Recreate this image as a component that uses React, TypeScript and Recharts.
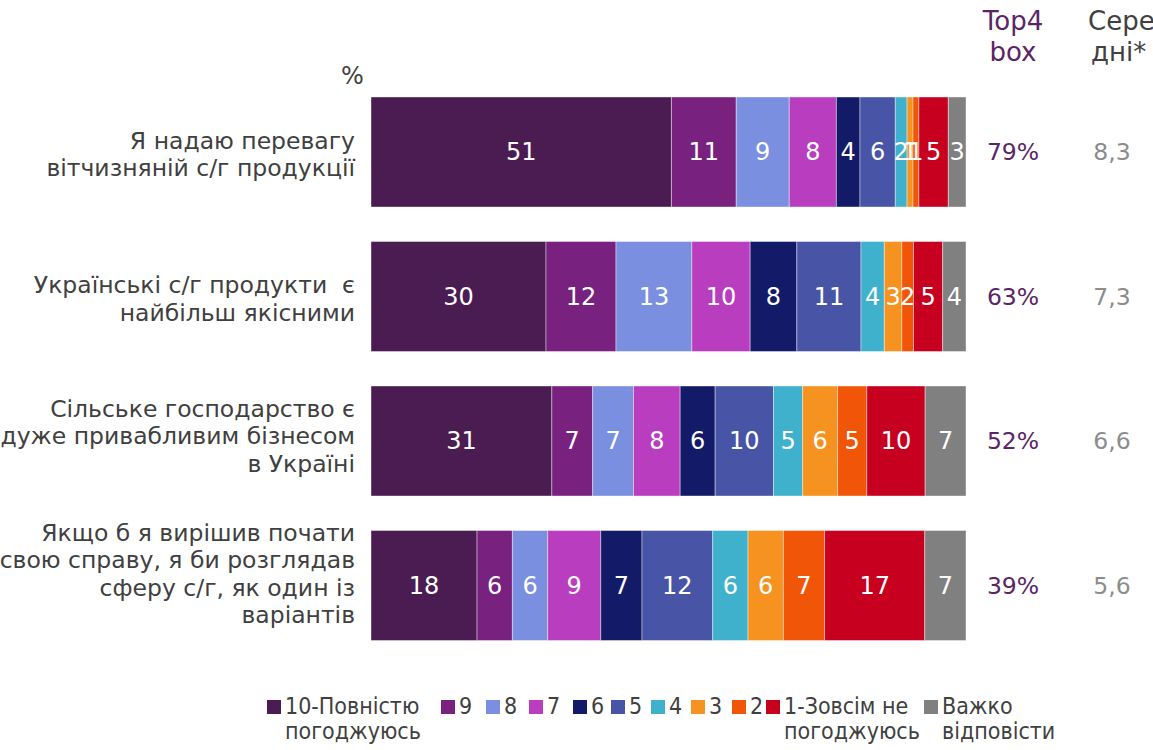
import React from "react";
import { BarChart, Bar, XAxis, YAxis, LabelList } from "recharts";

const statements = [
  ["Я надаю перевагу", "вітчизняній с/г продукції"],
  ["Українські с/г продукти  є", "найбільш якісними"],
  ["Сільське господарство є", "дуже привабливим бізнесом", "в Україні"],
  ["Якщо б я вирішив почати", "свою справу, я би розглядав", "сферу с/г, як один із", "варіантів"],
];

const seriesKeys = ["s10", "s9", "s8", "s7", "s6", "s5", "s4", "s3", "s2", "s1", "na"];
const seriesNames = ["10-Повністю погоджуюсь", "9", "8", "7", "6", "5", "4", "3", "2", "1-Зовсім не погоджуюсь", "Важко відповісти"];
const seriesColors = ["#4b1c52", "#78217f", "#7a8fdf", "#b93dbf", "#131a67", "#4855a7", "#3fb1cc", "#f6921f", "#f05508", "#c70020", "#808080"];

const v10 = [51, 30, 31, 18];
const v9 = [11, 12, 7, 6];
const v8 = [9, 13, 7, 6];
const v7 = [8, 10, 8, 9];
const v6 = [4, 8, 6, 7];
const v5 = [6, 11, 10, 12];
const v4 = [2, 4, 5, 6];
const v3 = [1, 3, 6, 6];
const v2 = [1, 2, 5, 7];
const v1 = [5, 5, 10, 17];
const vNa = [3, 4, 7, 7];

const top4 = ["79%", "63%", "52%", "39%"];
const mean = ["8,3", "7,3", "6,6", "5,6"];

const allValues = [v10, v9, v8, v7, v6, v5, v4, v3, v2, v1, vNa];

const data = statements.map((s, i) => {
  const row: Record<string, any> = { name: String(i) };
  seriesKeys.forEach((k, j) => {
    row[k] = allValues[j][i];
  });
  return row;
});

const FONT = "'DejaVu Sans', Verdana, sans-serif";
const LEGEND_FONT = "'Liberation Sans Narrow', 'DejaVu Sans Condensed', 'Roboto', sans-serif";

// legend square positions as in the original slide
const legendLeft = [267, 441, 486, 529, 573, 611, 651, 691, 732, 766, 924];

const LeftTick = (props: any) => {
  const { x, y, payload } = props;
  const lines = statements[Number(payload.value)];
  const n = lines.length;
  const lh = 27.5;
  const start = y - ((n - 1) * lh) / 2 + 2 - 7 * (n - 2);
  const tx = x - 8;
  return (
    <text x={tx} y={start} textAnchor="end" fill="#404040" fontSize={23.5} fontFamily={FONT} style={{ whiteSpace: "pre" }}>
      {lines.map((l, i) => (
        <tspan key={i} x={tx} y={start + i * lh} dy="0.35em">
          {l}
        </tspan>
      ))}
    </text>
  );
};

const RightTick = (props: any) => {
  const { x, y, payload } = props;
  const i = Number(payload.value);
  return (
    <g fontFamily={FONT} fontSize={23.5}>
      <text x={x + 39} y={y} dy="0.35em" textAnchor="middle" fill="#5a2566">
        {top4[i]}
      </text>
      <text x={x + 138} y={y} dy="0.35em" textAnchor="middle" fill="#8c8c8c">
        {mean[i]}
      </text>
    </g>
  );
};

const SegLabel = (props: any) => {
  const { x, y, width, height, value } = props;
  return (
    <text
      x={x + width / 2}
      y={y + height / 2}
      dy="0.35em"
      textAnchor="middle"
      fill="#ffffff"
      fontSize={24}
      fontFamily={FONT}
    >
      {value}
    </text>
  );
};

const LegendBlock = () => (
  <div
    style={{
      position: "absolute",
      left: 0,
      top: 694,
      width: 1153,
      height: 56,
      fontFamily: LEGEND_FONT,
      fontSize: 23,
      color: "#404040",
      lineHeight: "25px",
      whiteSpace: "nowrap",
    }}
  >
    {seriesNames.map((n, i) => {
      const multi = i === 0 || i === 9 || i === 10;
      const cut = n.lastIndexOf(" ");
      return (
        <div key={n} style={{ position: "absolute", left: legendLeft[i], top: 0, display: "flex", alignItems: "flex-start" }}>
          <span
            style={{
              width: 14,
              height: 14,
              background: seriesColors[i],
              display: "inline-block",
              marginTop: 6,
              marginRight: 4,
              flex: "none",
            }}
          />
          <div>
            <div>{multi ? n.slice(0, cut) : n}</div>
            {multi && <div>{n.slice(cut + 1)}</div>}
          </div>
        </div>
      );
    })}
  </div>
);

export default function App() {
  return (
    <div style={{ position: "absolute", left: 0, top: 0, width: 1153, height: 750, background: "#fff", overflow: "hidden" }}>
      <BarChart
        width={1153}
        height={750}
        data={data}
        layout="vertical"
        stackOffset="expand"
        barSize={110}
        margin={{ top: 80, right: 0, bottom: 92, left: 0 }}
      >
        <XAxis type="number" hide domain={[0, 1]} />
        <YAxis
          type="category"
          dataKey="name"
          yAxisId="left"
          width={371}
          axisLine={false}
          tickLine={false}
          tick={<LeftTick />}
          interval={0}
        />
        <YAxis
          type="category"
          dataKey="name"
          yAxisId="right"
          orientation="right"
          width={187}
          axisLine={false}
          tickLine={false}
          tick={<RightTick />}
          interval={0}
        />
        {seriesKeys.map((k, j) => (
          <Bar
            key={k}
            dataKey={k}
            name={seriesNames[j]}
            stackId="a"
            yAxisId="left"
            fill={seriesColors[j]}
            stroke="#ffffff"
            strokeOpacity={0.4}
            strokeWidth={1}
            isAnimationActive={false}
          >
            <LabelList dataKey={k} content={<SegLabel />} />
          </Bar>
        ))}
      </BarChart>
      <LegendBlock />
      <div style={{ position: "absolute", left: 341, top: 62, fontFamily: FONT, fontSize: 24, color: "#404040" }}>%</div>
      <div
        style={{
          position: "absolute",
          left: 961,
          top: 6,
          width: 104,
          textAlign: "center",
          fontFamily: FONT,
          fontSize: 26,
          lineHeight: "31px",
          color: "#5a2566",
        }}
      >
        <div>Top4</div>
        <div>box</div>
      </div>
      <div
        style={{
          position: "absolute",
          left: 1088,
          top: 6,
          fontFamily: FONT,
          fontSize: 26,
          lineHeight: "31px",
          color: "#404040",
          whiteSpace: "nowrap",
        }}
      >
        <div>Сере</div>
        <div style={{ marginLeft: 3 }}>дні*</div>
      </div>
    </div>
  );
}
